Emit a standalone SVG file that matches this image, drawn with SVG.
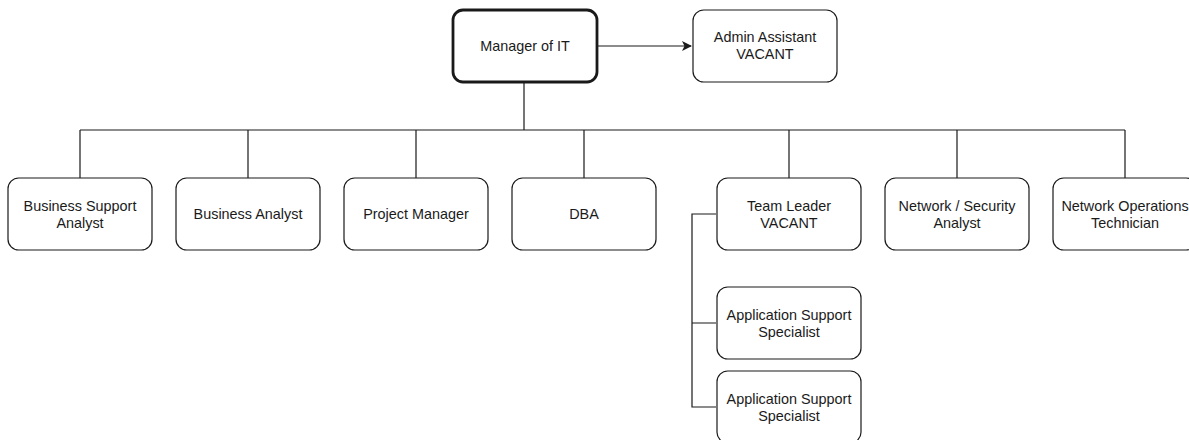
<svg xmlns="http://www.w3.org/2000/svg" width="1189" height="440" viewBox="0 0 1189 440">
  <style>
    .box { fill: #ffffff; stroke: #1a1a1a; stroke-width: 1.2; }
    .lead { stroke-width: 2.8; }
    .lbl { font-family: "Liberation Sans", Arial, sans-serif; font-size: 14.4px; fill: #1a1a1a; text-anchor: middle; }
    .wire { fill: none; stroke: #1a1a1a; stroke-width: 1.2; }
  </style>
  <defs>
    <marker id="arrow" viewBox="0 0 10 10" refX="9" refY="5" markerWidth="10" markerHeight="10" markerUnits="userSpaceOnUse" orient="auto">
      <path d="M0,0 L10,5 L0,10 L2.5,5 Z" fill="#1a1a1a"/>
    </marker>
  </defs>
  <rect width="1189" height="440" fill="#ffffff"/>

  <g id="connectors">
    <path class="wire" d="M597,46 H691" marker-end="url(#arrow)"/>
    <path class="wire" d="M524,82 V130"/>
    <path class="wire" d="M80,130 H1125"/>
    <path class="wire" d="M80,130 V178 M248,130 V178 M416,130 V178 M584,130 V178 M789,130 V178 M957,130 V178 M1125,130 V178"/>
    <path class="wire" d="M716,214 H692 V407 H716 M692,323 H716"/>
  </g>

  <g id="manager">
    <rect class="box lead" x="453" y="10" width="144" height="72" rx="10"/>
    <text class="lbl" x="525" y="51">Manager of IT</text>
  </g>
  <g id="admin-assistant">
    <rect class="box" x="693" y="10" width="144" height="72" rx="10.8"/>
    <text class="lbl" x="765" y="42">Admin Assistant</text>
    <text class="lbl" x="765" y="59">VACANT</text>
  </g>

  <g id="business-support-analyst">
    <rect class="box" x="8" y="178" width="144" height="72" rx="10.8"/>
    <text class="lbl" x="80" y="211">Business Support</text>
    <text class="lbl" x="80" y="228">Analyst</text>
  </g>
  <g id="business-analyst">
    <rect class="box" x="176" y="178" width="144" height="72" rx="10.8"/>
    <text class="lbl" x="248" y="219">Business Analyst</text>
  </g>
  <g id="project-manager">
    <rect class="box" x="344" y="178" width="144" height="72" rx="10.8"/>
    <text class="lbl" x="416" y="219">Project Manager</text>
  </g>
  <g id="dba">
    <rect class="box" x="512" y="178" width="144" height="72" rx="10.8"/>
    <text class="lbl" x="584" y="219">DBA</text>
  </g>
  <g id="team-leader">
    <rect class="box" x="717" y="178" width="144" height="72" rx="10.8"/>
    <text class="lbl" x="789" y="211">Team Leader</text>
    <text class="lbl" x="789" y="228">VACANT</text>
  </g>
  <g id="network-security-analyst">
    <rect class="box" x="885" y="178" width="144" height="72" rx="10.8"/>
    <text class="lbl" x="957" y="211">Network / Security</text>
    <text class="lbl" x="957" y="228">Analyst</text>
  </g>
  <g id="network-operations-technician">
    <rect class="box" x="1053" y="178" width="144" height="72" rx="10.8"/>
    <text class="lbl" x="1125" y="211">Network Operations</text>
    <text class="lbl" x="1125" y="228">Technician</text>
  </g>

  <g id="app-support-1">
    <rect class="box" x="717" y="287" width="144" height="72" rx="10.8"/>
    <text class="lbl" x="789" y="320">Application Support</text>
    <text class="lbl" x="789" y="337">Specialist</text>
  </g>
  <g id="app-support-2">
    <rect class="box" x="717" y="371" width="144" height="72" rx="10.8"/>
    <text class="lbl" x="789" y="404">Application Support</text>
    <text class="lbl" x="789" y="421">Specialist</text>
  </g>
</svg>
